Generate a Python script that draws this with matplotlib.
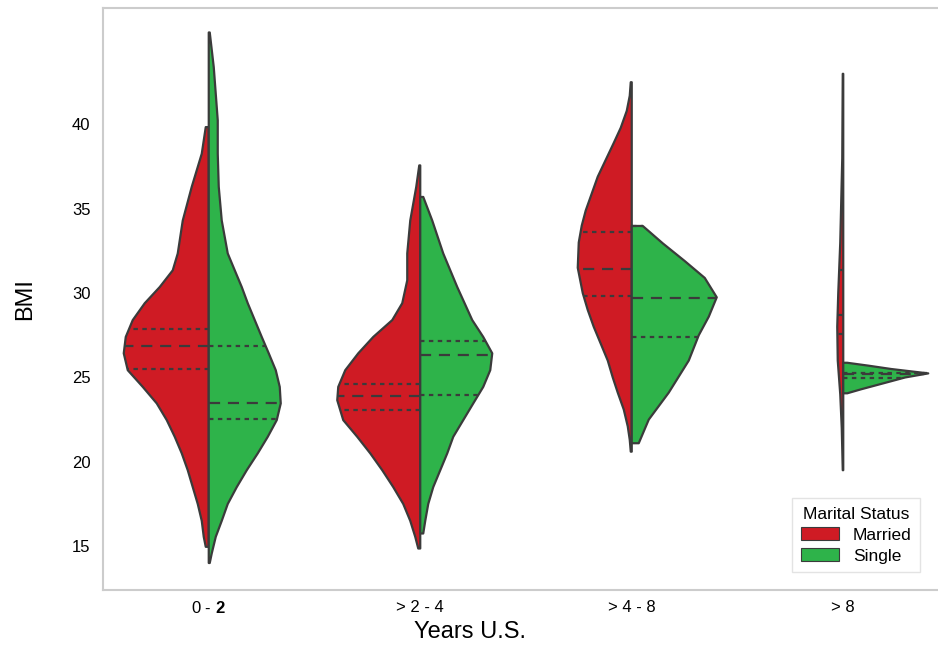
import numpy as np
import matplotlib
matplotlib.use("Agg")
import matplotlib.pyplot as plt
from matplotlib.patches import Patch

# Data (BMI value, relative half-width of the KDE)
groups = ["0 - $\\mathbf{2}$", "> 2 - 4", "> 4 - 8", "> 8"]

married_y = [
    [14.96, 15.55, 16.5, 17.5, 18.5, 19.5, 20.5, 21.48, 22.47, 23.46, 24.44, 25.43, 26.43, 27.4,
     28.4, 29.4, 30.36, 31.35, 32.35, 34.3, 36.3, 38.26, 39.84],
    [14.86, 15.55, 16.5, 17.5, 18.5, 19.5, 20.5, 21.48, 22.47, 23.65, 24.44, 25.43, 26.43, 27.4,
     28.4, 29.4, 30.76, 32.35, 34.3, 36.3, 37.57],
    [20.6, 21.3, 22.1, 23.1, 24.1, 25.0, 26.0, 27.0, 28.0, 29.0, 30.0, 31.5, 33.0, 34.0, 34.9,
     35.9, 36.9, 37.9, 38.9, 39.8, 40.8, 41.7, 42.5],
    [19.5, 22.0, 24.0, 26.0, 28.0, 30.0, 33.0, 38.0, 43.0],
]
married_dens = [
    [3, 5, 7, 11, 16, 21, 27, 34, 42, 52, 66, 81, 85, 83, 76, 64, 49, 36, 31, 26, 17, 7, 3],
    [2, 5, 10, 17, 27, 38, 50, 63, 77, 83, 82, 75, 62, 47, 28, 18, 13, 13, 10, 4, 1],
    [1, 2, 4, 8, 14, 19, 24, 31, 38, 44, 49, 54, 53, 50, 46, 40, 34, 26, 18, 11, 5, 2, 1],
    [0.5, 1.5, 3, 5.5, 6, 5, 3, 1, 0.5],
]
single_y = [
    [14.0, 14.57, 15.55, 16.5, 17.5, 18.5, 19.5, 20.5, 21.48, 22.47, 23.46, 24.44, 25.43, 26.43,
     27.4, 28.4, 29.4, 30.36, 31.35, 32.35, 34.3, 36.3, 38.26, 40.24, 43.4, 45.45],
    [15.75, 16.5, 17.5, 18.5, 19.5, 20.5, 21.48, 22.47, 23.46, 24.44, 25.43, 26.43, 27.4, 28.4,
     30.36, 32.35, 34.3, 35.7],
    [21.1, 22.5, 24.1, 26.0, 27.5, 28.6, 29.75, 30.9, 31.9, 32.95, 33.98],
    [24.06, 24.3, 24.65, 25.0, 25.24, 25.5, 25.7, 25.87],
]
single_dens = [
    [1, 3, 7, 13, 19, 28, 38, 49, 59, 68, 72, 71, 67, 60, 53, 46, 39, 33, 26, 19, 13, 10, 9, 9, 5, 1],
    [3, 5, 8, 13, 20, 27, 33, 43, 53, 63, 70, 72, 63, 52, 37, 23, 12, 3],
    [7, 17, 37, 57, 67, 77, 85, 73, 53, 31, 11],
    [4, 18, 40, 62, 85, 48, 25, 4],
]

# quartiles (lower, median, upper)
married_q = [[25.53, 26.87, 27.9], [23.06, 23.89, 24.6], [29.85, 31.4, 33.65], [27.6, 28.7, 31.35]]
single_q = [[22.52, 23.5, 26.87], [23.93, 26.31, 27.14], [27.4, 29.7, 33.95], [24.96, 25.2, 25.25]]

red = "#CF1B24"
green = "#2EB34A"
edge = "#3b3b3b"
dens_scale = 1 / 211.5

plt.rcParams["font.family"] = "Liberation Sans"
plt.rcParams["mathtext.fontset"] = "custom"
plt.rcParams["mathtext.rm"] = "Liberation Sans"
plt.rcParams["mathtext.bf"] = "Liberation Sans:bold"

fig = plt.figure(figsize=(9.38, 6.45), dpi=100)
ax = fig.add_axes([103 / 938, 55 / 645, 846 / 938, 582 / 645])


def half_violin(pos, ys, dens, quarts, color, side):
    ys = np.asarray(ys, dtype=float)
    w = np.asarray(dens, dtype=float) * dens_scale
    xs = pos + side * w
    px = np.concatenate([[pos], xs, [pos]])
    py = np.concatenate([[ys[0]], ys, [ys[-1]]])
    ax.fill(px, py, facecolor=color, edgecolor=edge, linewidth=1.6,
            joinstyle="round", zorder=2)
    for i, q in enumerate(quarts):
        qw = np.interp(q, ys, w)
        if i == 1:
            ls = (0, (5, 3.5))
        else:
            ls = (0, (2, 2))
        ax.plot([pos, pos + side * qw], [q, q], color=edge, linewidth=1.6,
                linestyle=ls, zorder=3)


for i in range(len(groups)):
    half_violin(i, married_y[i], married_dens[i], married_q[i], red, -1)
    half_violin(i, single_y[i], single_dens[i], single_q[i], green, 1)

ax.set_xlim(-0.5, 3.5)
ax.set_ylim(12.4, 46.9)
ax.set_xticks(range(len(groups)))
ax.set_xticklabels(groups, fontsize=12)
ax.set_yticks([15, 20, 25, 30, 35, 40])
ax.tick_params(axis="y", length=0, labelsize=12, pad=9)
ax.tick_params(axis="x", length=0, labelsize=12, pad=7)

for s in ax.spines.values():
    s.set_color("#cccccc")
    s.set_linewidth(1.5)

ax.set_xlabel("Years U.S.", fontsize=17)
ax.xaxis.set_label_coords(0.434, -0.054)
ax.set_ylabel("BMI", fontsize=17, labelpad=26)

handles = [Patch(facecolor=red, edgecolor=edge, linewidth=0.8, label="Married"),
           Patch(facecolor=green, edgecolor=edge, linewidth=0.8, label="Single")]
leg = ax.legend(handles=handles, title="Marital Status", loc="lower right",
                bbox_to_anchor=(929 / 938, 64 / 645), bbox_transform=fig.transFigure,
                fontsize=12.5, title_fontsize=12.5, frameon=True, fancybox=False,
                handlelength=2.2, handleheight=0.8, borderpad=0.5, labelspacing=0.3)
leg.get_frame().set_edgecolor("#dddddd")

fig.savefig("out.png", dpi=100)
